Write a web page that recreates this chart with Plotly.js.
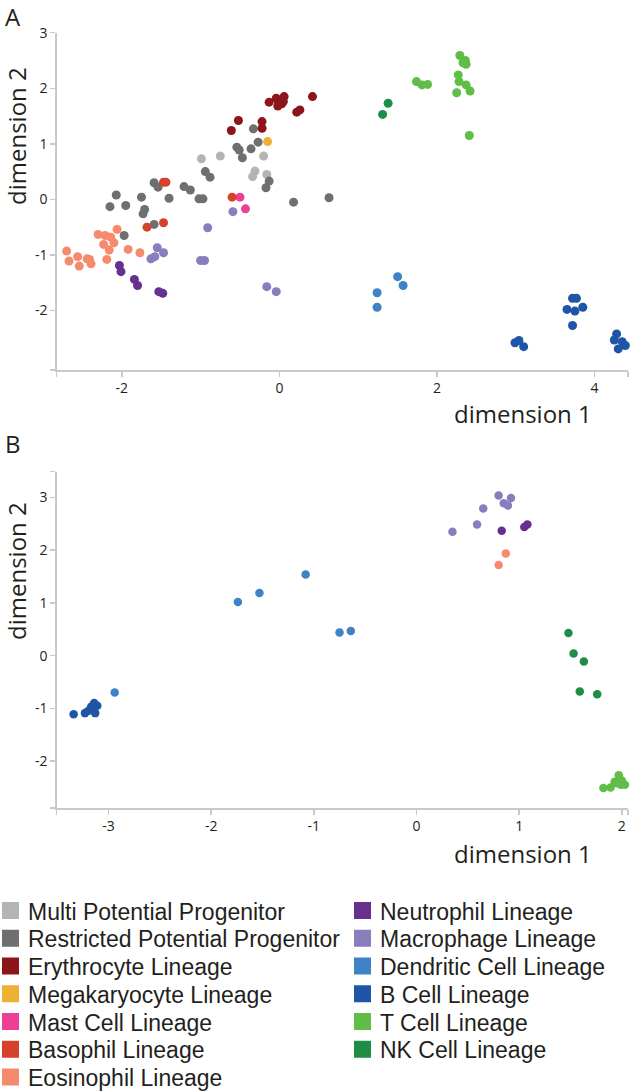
<!DOCTYPE html>
<html>
<head>
<meta charset="utf-8">
<script src="https://cdn.plot.ly/plotly-3.0.1.min.js"></script>
<style>html,body{margin:0;padding:0;background:#fff;}#chart{width:630px;height:1091px;}</style>
</head>
<body>
<div id="chart"></div>
<script>
// ---------- categories and colours ----------
const categories = ['Multi Potential Progenitor', 'Restricted Potential Progenitor', 'Erythrocyte Lineage',
  'Megakaryocyte Lineage', 'Mast Cell Lineage', 'Basophil Lineage', 'Eosinophil Lineage',
  'Neutrophil Lineage', 'Macrophage Lineage', 'Dendritic Cell Lineage', 'B Cell Lineage',
  'T Cell Lineage', 'NK Cell Lineage'];
const colors = ['#b3b5b4', '#6d6f71', '#8b1518', '#efb134', '#ed3f96', '#d5412b', '#f68a6c',
  '#66308f', '#8a7dbd', '#3f82c5', '#1f55a7', '#60bd47', '#1e8e44'];

// ---------- panel A (x = dimension 1, y = dimension 2) ----------
const aMulti = [[-0.99,0.73],[-0.75,0.78],[-0.20,0.78],[-0.31,0.51],[-0.34,0.41],[-0.16,0.45]];
const aRestricted = [[-2.15,-0.13],[-2.07,0.08],[-1.95,-0.11],[-1.97,-0.65],[-1.75,0.04],[-1.71,-0.18],
  [-1.73,-0.26],[-1.59,0.30],[-1.54,0.22],[-1.40,0.02],[-1.59,-0.45],[-1.21,0.23],[-1.13,0.17],
  [-1.02,0.01],[-0.97,0.01],[-0.94,0.50],[-0.88,0.40],[-0.54,0.94],[-0.51,0.89],[-0.47,0.75],
  [-0.36,0.91],[-0.33,1.27],[-0.27,1.03],[-0.13,0.33],[-0.17,0.21],[0.18,-0.05],[0.63,0.03]];
const aErythro = [[-0.52,1.42],[-0.61,1.24],[-0.22,1.40],[-0.22,1.28],[-0.13,1.75],[-0.04,1.82],
  [-0.02,1.68],[0.03,1.72],[0.06,1.85],[0.05,1.76],[-0.01,1.76],[0.22,1.57],[0.26,1.61],[0.42,1.85]];
const aMega = [[-0.15,1.04]];
const aMast = [[-0.50,0.04],[-0.43,-0.17]];
const aBaso = [[-0.60,0.04],[-1.47,0.31],[-1.44,0.31],[-1.68,-0.50],[-1.47,-0.42]];
const aEosino = [[-2.70,-0.93],[-2.67,-1.11],[-2.56,-1.03],[-2.54,-1.20],[-2.44,-1.07],[-2.39,-1.16],
  [-2.41,-1.08],[-2.30,-0.63],[-2.21,-0.65],[-2.14,-0.68],[-2.10,-0.78],[-2.23,-0.81],[-2.16,-0.91],
  [-2.19,-1.08],[-2.06,-0.54],[-1.92,-0.90],[-1.77,-0.96]];
const aNeutro = [[-2.03,-1.19],[-2.01,-1.30],[-1.84,-1.44],[-1.80,-1.55],[-1.53,-1.66],[-1.48,-1.69]];
const aMacro = [[-0.59,-0.22],[-0.91,-0.51],[-1.55,-0.87],[-1.63,-1.07],[-1.58,-1.03],[-1.47,-0.96],
  [-1.00,-1.10],[-0.95,-1.10],[-0.16,-1.57],[-0.04,-1.66]];
const aDendritic = [[1.24,-1.68],[1.24,-1.94],[1.50,-1.39],[1.57,-1.55]];
const aBcell = [[2.99,-2.58],[3.04,-2.54],[3.10,-2.65],[3.72,-1.78],[3.77,-1.78],[3.65,-1.98],
  [3.75,-2.01],[3.85,-1.94],[3.72,-2.27],[4.28,-2.42],[4.25,-2.53],[4.35,-2.56],[4.39,-2.63],[4.30,-2.69]];
const aTcell = [[2.29,2.59],[2.36,2.50],[2.37,2.43],[2.33,2.46],[1.74,2.12],[1.81,2.06],[1.88,2.07],
  [2.27,2.24],[2.28,2.12],[2.37,2.06],[2.25,1.92],[2.42,1.95],[2.41,1.15]];
const aNK = [[1.38,1.73],[1.31,1.53]];

// ---------- panel B ----------
const bMulti = [];
const bRestricted = [];
const bErythro = [];
const bMega = [];
const bMast = [];
const bBaso = [];
const bEosino = [[0.87,1.94],[0.80,1.72]];
const bNeutro = [[0.83,2.37],[1.05,2.44],[1.08,2.49]];
const bMacro = [[0.80,3.04],[0.92,2.99],[0.85,2.89],[0.89,2.85],[0.65,2.79],[0.59,2.49],[0.35,2.35]];
const bDendritic = [[-1.74,1.02],[-1.53,1.19],[-1.08,1.54],[-0.75,0.44],[-0.64,0.47],[-2.94,-0.70]];
const bBcell = [[-3.34,-1.11],[-3.23,-1.09],[-3.20,-1.05],[-3.17,-0.97],[-3.14,-0.90],[-3.11,-0.95],
  [-3.13,-1.09],[-3.16,-1.02]];
const bTcell = [[1.82,-2.51],[1.89,-2.50],[1.93,-2.39],[1.97,-2.27],[2.00,-2.37],[2.03,-2.45],
  [1.99,-2.45],[1.95,-2.42]];
const bNK = [[1.48,0.43],[1.53,0.04],[1.63,-0.11],[1.59,-0.68],[1.76,-0.73]];

// ---------- ticks ----------
const aXTicks = [-2, 0, 2, 4];
const aYTicks = [-2, -1, 0, 1, 2, 3];
const bXTicks = [-3, -2, -1, 0, 1, 2];
const bYTicks = [-2, -1, 0, 1, 2, 3];

const panelA = [aMulti, aRestricted, aErythro, aMega, aMast, aBaso, aEosino, aNeutro, aMacro, aDendritic, aBcell, aTcell, aNK];
const panelB = [bMulti, bRestricted, bErythro, bMega, bMast, bBaso, bEosino, bNeutro, bMacro, bDendritic, bBcell, bTcell, bNK];

// ---------- geometry (pixels) ----------
const W = 630, H = 1091;
const px = v => v / W;
const py = v => 1 - v / H;

const traces = [];
function addPanel(panel, xa, ya, size) {
  panel.forEach((pts, i) => {
    if (!pts.length) return;
    traces.push({
      type: 'scatter', mode: 'markers', name: categories[i],
      x: pts.map(p => p[0]), y: pts.map(p => p[1]),
      xaxis: xa, yaxis: ya, cliponaxis: false, showlegend: false,
      marker: { color: colors[i], size: size, line: { width: 0 } },
      hoverinfo: 'name+x+y'
    });
  });
}
addPanel(panelA, 'x', 'y', 9);
addPanel(panelB, 'x2', 'y2', 8.5);

const tickFont = { family: 'Open Sans, sans-serif', size: 14, color: '#231f20' };
function axis(domain, range, ticks, anchor) {
  const vals = [range[0]].concat(ticks, [range[1]]);
  const text = [''].concat(ticks.map(t => String(t)), ['']);
  return {
    domain: domain, range: range, anchor: anchor, autorange: false,
    showgrid: false, zeroline: false, showline: true, linecolor: '#c9c9c9', linewidth: 1.5,
    ticks: 'outside', ticklen: 5, tickwidth: 1.5, tickcolor: '#c9c9c9',
    tickmode: 'array', tickvals: vals, ticktext: text, tickfont: tickFont, fixedrange: true
  };
}

const titleFont = { family: 'Open Sans, sans-serif', size: 24, color: '#231f20' };
const annotations = [
  { text: 'A', x: px(3), y: py(16), xanchor: 'left', yanchor: 'middle', font: titleFont },
  { text: 'B', x: px(3), y: py(443), xanchor: 'left', yanchor: 'middle', font: titleFont },
  { text: 'dimension 1', x: px(523), y: py(414), xanchor: 'center', yanchor: 'middle', font: titleFont },
  { text: 'dimension 2', x: px(16), y: py(136), xanchor: 'center', yanchor: 'middle', textangle: -90, font: titleFont },
  { text: 'dimension 1', x: px(523), y: py(853), xanchor: 'center', yanchor: 'middle', font: titleFont },
  { text: 'dimension 2', x: px(16), y: py(571), xanchor: 'center', yanchor: 'middle', textangle: -90, font: titleFont }
].map(a => Object.assign({ xref: 'paper', yref: 'paper', showarrow: false }, a));

// legend built from the categories: two columns
const shapes = [];
const legendFont = { family: 'Liberation Sans, Arial, sans-serif', size: 23, color: '#231f20' };
categories.forEach((name, i) => {
  const col = i < 7 ? 0 : 1;
  const row = col === 0 ? i : i - 7;
  const cy = 910.5 + row * 27.75;
  const sx = col === 0 ? 2 : 354;
  shapes.push({ type: 'rect', xref: 'paper', yref: 'paper', x0: px(sx), x1: px(sx + 17),
    y0: py(cy + 8.5), y1: py(cy - 8.5), fillcolor: colors[i], line: { width: 0 } });
  annotations.push({ xref: 'paper', yref: 'paper', showarrow: false, text: name,
    x: px(sx + 24), y: py(cy + 1), xanchor: 'left', yanchor: 'middle', font: legendFont });
});

const layout = {
  width: W, height: H, margin: { l: 0, r: 0, t: 0, b: 0 },
  paper_bgcolor: '#ffffff', plot_bgcolor: '#ffffff', showlegend: false,
  xaxis: axis([px(56.7), px(628)], [-2.826, 4.424], aXTicks, 'y'),
  yaxis: axis([py(370), py(32.7)], [-3.07, 3.0], aYTicks, 'x'),
  xaxis2: axis([px(56.7), px(628)], [-3.505, 2.06], bXTicks, 'y2'),
  yaxis2: axis([py(808), py(471.7)], [-2.89, 3.49], bYTicks, 'x2'),
  annotations: annotations, shapes: shapes
};

Plotly.newPlot('chart', traces, layout, { displayModeBar: false, staticPlot: true });
</script>
</body>
</html>
